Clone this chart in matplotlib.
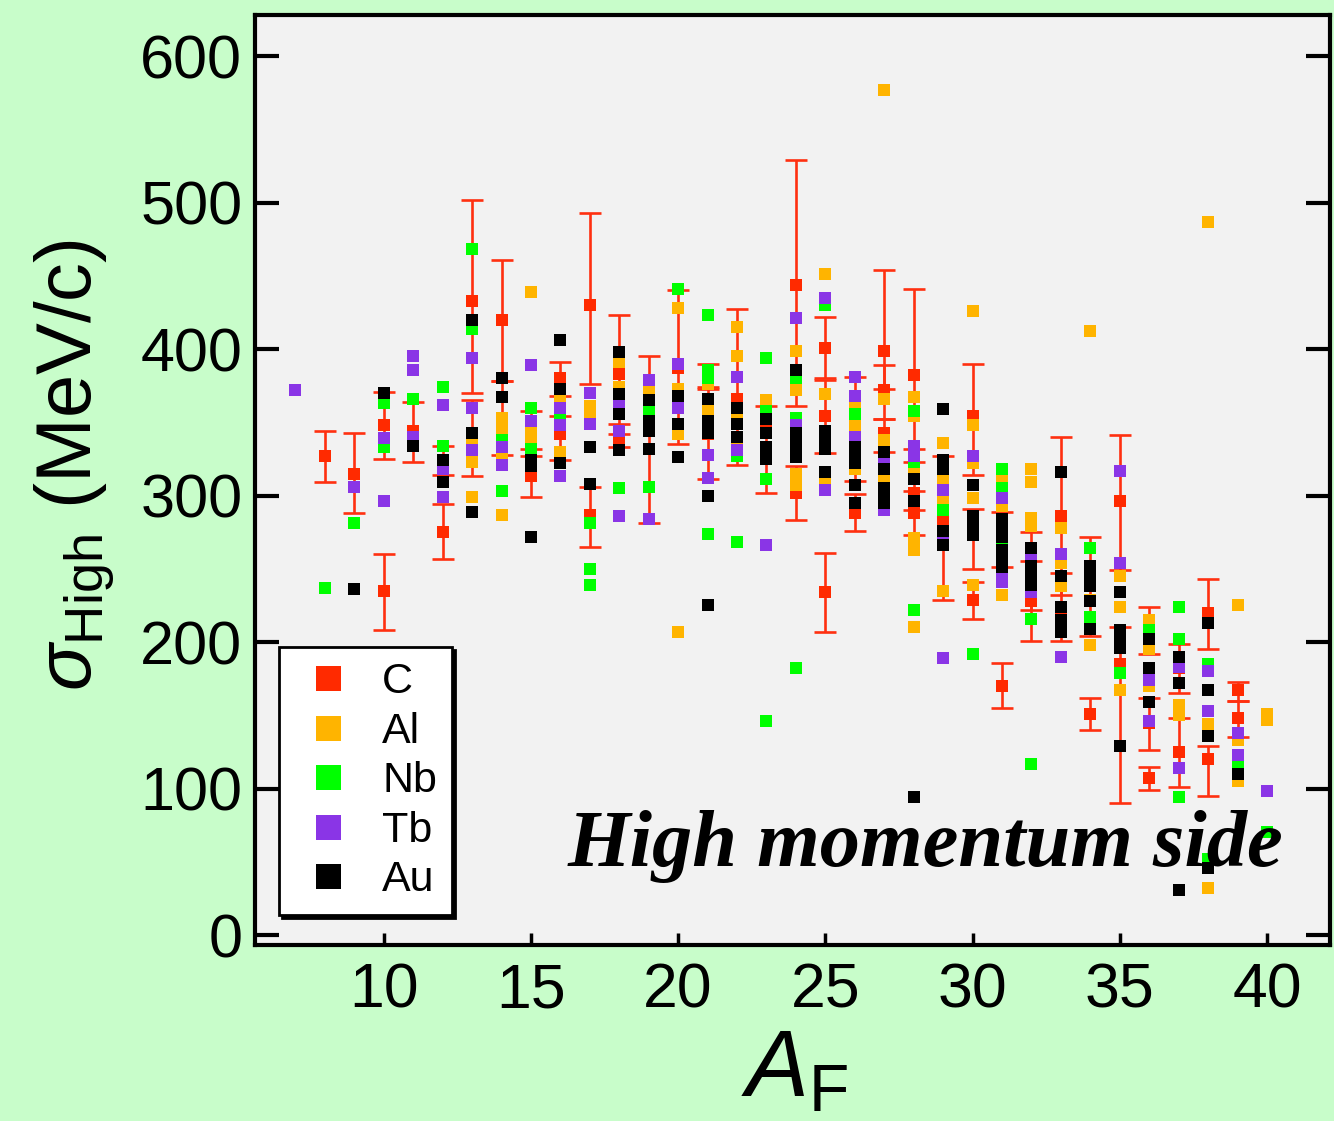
"""
sigma_High vs A_F scatter for C, Al, Nb, Tb and Au targets
(high momentum side), with error bars on the C points.
"""
import matplotlib
matplotlib.use("Agg")
import matplotlib.pyplot as plt
from matplotlib.lines import Line2D

plt.rcParams["mathtext.fontset"] = "custom"
plt.rcParams["mathtext.rm"] = "Liberation Sans"
plt.rcParams["mathtext.it"] = "Liberation Sans:italic"
plt.rcParams["font.family"] = ["Liberation Sans", "DejaVu Sans"]

# ---- data ----------------------------------------------------------------
# C: value with asymmetric error bars (distance down / up)
c_A = [8, 9, 10, 10, 11, 12, 12, 13, 13, 14, 14, 15, 15, 16, 16, 17, 17, 18, 18, 19,
       20, 21, 21, 22, 23, 24, 24, 25, 25, 25, 26, 26, 27, 27, 27, 28, 28, 28, 29, 30,
       30, 30, 31, 31, 32, 32, 33, 33, 34, 34, 35, 35, 36, 36, 36, 37, 37, 38, 38, 39, 39]
c_val = [327, 315, 348, 235, 344, 324, 275, 433, 340, 420, 352, 313, 344, 380, 342, 430, 287, 383, 338, 345,
         387, 381, 342, 366, 345, 444, 302, 401, 354, 234, 288, 345, 399, 372, 343, 382, 302, 288, 283, 354,
         278, 229, 275, 170, 250, 228, 286, 222, 238, 151, 296, 185, 207, 145, 107, 182, 125, 220, 120, 167, 148]
c_lo = [18, 27, 23, 27, 21, 10, 18, 63, 27, 42, 24, 14, 12, 12, 18, 54, 22, 34, 5, 64,
        52, 8, 31, 45, 43, 83, 19, 21, 25, 27, 12, 35, 26, 20, 13, 50, 12, 15, 54, 40,
        28, 13, 24, 15, 28, 27, 54, 21, 34, 11, 47, 95, 15, 19, 8, 17, 24, 25, 25, 7, 13]
c_hi = [17, 28, 23, 25, 20, 10, 19, 69, 25, 41, 26, 14, 14, 11, 12, 63, 19, 40, 4, 50,
        53, 9, 32, 61, 16, 85, 18, 21, 25, 27, 13, 36, 55, 17, 9, 59, 21, 15, 44, 36,
        13, 12, 14, 16, 25, 27, 54, 25, 34, 11, 45, 25, 17, 17, 8, 17, 23, 23, 9, 6, 12]

al_A = [13, 13, 13, 14, 14, 14, 14, 15, 15, 15, 16, 16, 17, 17, 18, 18, 19, 20, 20, 20, 20,
        21, 21, 22, 22, 22, 22, 23, 24, 24, 24, 24, 24, 25, 25, 25, 26, 26, 26, 26,
        27, 27, 27, 27, 28, 28, 28, 28, 28, 28, 29, 29, 29, 29, 30, 30, 30, 30, 30,
        31, 31, 31, 32, 32, 32, 32, 33, 33, 33, 34, 34, 34, 35, 35, 35, 36, 36, 36,
        37, 37, 38, 38, 38, 39, 39, 39, 40, 40]
al_val = [337, 323, 299, 353, 345, 327, 287, 439, 345, 339, 366, 330, 361, 354, 391, 374, 373, 428, 373, 342, 207,
          376, 359, 415, 395, 354, 334, 365, 399, 372, 330, 315, 307, 451, 369, 310, 363, 353, 345, 318,
          577, 366, 338, 312, 367, 354, 319, 271, 263, 210, 336, 311, 298, 235, 426, 348, 322, 298, 239,
          312, 293, 232, 318, 309, 285, 279, 278, 254, 238, 412, 229, 198, 245, 224, 167, 215, 195, 170,
          157, 150, 487, 144, 32, 225, 133, 105, 151, 147]

nb_A = [8, 9, 10, 10, 11, 12, 12, 13, 13, 14, 14, 15, 15, 16, 17, 17, 17, 18, 19, 19, 20,
        21, 21, 21, 21, 22, 22, 23, 23, 23, 23, 24, 24, 24, 25, 26, 28, 28, 28, 29, 30,
        31, 31, 31, 32, 32, 34, 34, 35, 36, 37, 37, 37, 38, 38, 39, 40]
nb_val = [237, 281, 363, 333, 366, 374, 334, 468, 414, 338, 303, 360, 332, 356, 281, 250, 239, 305, 357, 306, 441,
          423, 386, 380, 274, 327, 268, 394, 358, 311, 146, 380, 353, 182, 430, 356, 358, 323, 222, 290, 192,
          318, 305, 266, 216, 117, 264, 217, 179, 208, 224, 202, 94, 185, 52, 116, 70]

tb_A = [7, 9, 10, 10, 11, 11, 11, 12, 12, 12, 13, 13, 13, 14, 14, 15, 15, 16, 16, 16,
        17, 17, 18, 18, 18, 19, 19, 20, 20, 21, 21, 22, 22, 23, 24, 24, 25, 25,
        26, 26, 26, 27, 27, 28, 28, 29, 29, 29, 30, 31, 31, 31, 32, 32, 33, 33,
        35, 35, 36, 36, 37, 37, 38, 38, 39, 39, 40]
tb_val = [372, 306, 339, 296, 395, 386, 340, 362, 318, 299, 394, 360, 331, 333, 321, 389, 351, 360, 348, 313,
          370, 349, 363, 344, 286, 379, 284, 390, 360, 328, 312, 381, 331, 266, 421, 348, 435, 304,
          381, 368, 340, 324, 290, 334, 327, 304, 272, 189, 327, 298, 249, 241, 260, 234, 260, 190,
          317, 254, 174, 146, 183, 114, 180, 153, 138, 123, 98]

au_A = [9, 10, 11, 12, 12, 13, 13, 13, 14, 14, 15, 15, 15, 16, 16, 16, 17, 17,
        18, 18, 18, 18, 19, 19, 19, 19, 20, 20, 20, 21, 21, 21, 21, 21, 22, 22, 22,
        23, 23, 23, 23, 24, 24, 24, 24, 24, 25, 25, 25, 25, 26, 26, 26, 26, 26,
        27, 27, 27, 27, 27, 28, 28, 28, 29, 29, 29, 29, 29, 30, 30, 30, 30,
        31, 31, 31, 31, 31, 31, 32, 32, 32, 32, 33, 33, 33, 33, 33, 34, 34, 34, 34, 34,
        35, 35, 35, 35, 35, 36, 36, 36, 37, 37, 37, 38, 38, 38, 38, 39]
au_val = [236, 370, 334, 324, 309, 420, 343, 289, 380, 367, 324, 320, 272, 406, 373, 322, 333, 308,
          398, 369, 356, 331, 365, 351, 344, 332, 368, 349, 326, 366, 351, 343, 300, 225, 360, 349, 340,
          352, 343, 333, 325, 386, 343, 338, 333, 326, 344, 338, 332, 316, 333, 327, 322, 307, 295,
          330, 318, 305, 300, 295, 311, 296, 94, 359, 324, 318, 276, 266, 307, 286, 281, 273,
          284, 278, 272, 263, 257, 251, 264, 252, 247, 239, 316, 245, 224, 215, 207, 252, 245, 238, 228, 209,
          234, 208, 202, 196, 129, 202, 182, 159, 190, 172, 31, 213, 167, 136, 46, 110]

labels = ["C", "Al", "Nb", "Tb", "Au"]
colors = ["#ff2a00", "#ffb400", "#00ff00", "#8a35e6", "#000000"]

# ---- figure --------------------------------------------------------------
fig = plt.figure(figsize=(13.34, 11.21), dpi=100, facecolor="#c8fdca")
ax = fig.add_axes([0.191, 0.157, 0.806, 0.8296], facecolor="#f2f2f2")

ms = 8.3
# error bars + caps first, then the C squares on top of them
ax.errorbar(c_A, c_val, yerr=[c_lo, c_hi], fmt="none",
            ecolor="#ff3010", elinewidth=1.9, capsize=7.9, capthick=1.9,
            zorder=2)
ax.plot(c_A, c_val, "s", ms=ms, mew=0, color=colors[0], ls="none", zorder=2.5)
for i, (xs, ys) in enumerate([(al_A, al_val), (nb_A, nb_val),
                              (tb_A, tb_val), (au_A, au_val)]):
    ax.plot(xs, ys, "s", ms=ms, mew=0, color=colors[i + 1], ls="none", zorder=3 + i)

ax.set_xlim(5.62, 42.14)
ax.set_ylim(-6.8, 628)
ax.set_xticks([10, 15, 20, 25, 30, 35, 40])
ax.set_yticks([0, 100, 200, 300, 400, 500, 600])

for s in ax.spines.values():
    s.set_linewidth(3)
ax.tick_params(axis="y", direction="in", length=17, width=3, right=True,
               labelsize=44, pad=9)
ax.tick_params(axis="x", direction="in", length=9, width=2.5,
               labelsize=45, pad=12)

fig.text(0.056, 0.585, r"$\sigma_{\mathrm{High}}$ (MeV/c)", rotation=90,
         ha="center", va="center", fontsize=56)
fig.text(0.596, 0.022, r"$A_{\mathrm{F}}$", ha="center", va="baseline",
         fontsize=68)

ax.text(0.291, 0.085, "High momentum side", transform=ax.transAxes,
        family="Liberation Serif", weight="bold", style="italic",
        fontsize=58, ha="left", va="baseline", zorder=10)

handles = [Line2D([], [], marker="s", ls="none", ms=18, mew=0, color=c)
           for c in colors]
leg = ax.legend(handles, labels, loc="lower left", bbox_to_anchor=(0.0223, 0.032),
                borderaxespad=0, fontsize=31, frameon=True, fancybox=False,
                shadow={"color": "black", "alpha": 1}, handletextpad=0.45,
                labelspacing=0.22, borderpad=0.35, handlelength=1.6)
leg.get_frame().set_edgecolor("black")
leg.get_frame().set_linewidth(2)
leg.get_frame().set_facecolor("white")
leg.set_zorder(20)

fig.savefig("out.png", dpi=100, facecolor=fig.get_facecolor())
